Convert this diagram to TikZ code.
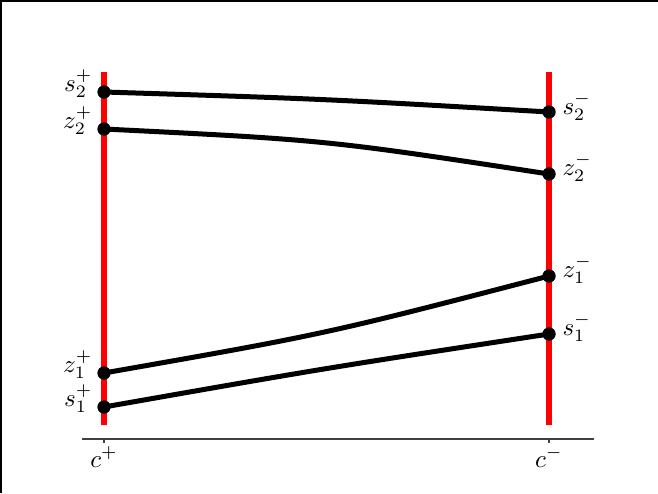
\documentclass[tikz,border=0pt]{standalone}
\begin{document}
\begin{tikzpicture}[x=1pt,y=-1pt,
  redbar/.style={red,line width=5.5pt},
  curve/.style={black,line width=5pt},
  dot/.style={circle,fill=black,inner sep=0pt,minimum size=13pt},
  lbl/.style={inner sep=0pt,scale=2.5,transform shape},
  axis/.style={black!75,line width=1.3pt},
  frame/.style={black,line width=2pt}]
\useasboundingbox (0,0) rectangle (658,493);
\draw[frame] (0,1) -- (658,1);
\draw[frame] (1,0) -- (1,493);
% axis
\coordinate (axl) at (82,439);
\coordinate (axr) at (594,439);
\draw[axis] (axl) -- (axr);
\coordinate (tl) at (104,439);
\coordinate (tr) at (549,439);
\draw[axis] (tl) -- ++(0,4);
\draw[axis] (tr) -- ++(0,4);
\node[lbl,anchor=base] (cp) at (104,467) {$c^+$};
\node[lbl,anchor=base] (cm) at (549,467) {$c^-$};
% red bars
\coordinate (lt) at (104,72);
\coordinate (lb) at (104,425);
\coordinate (rt) at (549,72);
\coordinate (rb) at (549,425);
\draw[redbar] (lt) -- (lb);
\draw[redbar] (rt) -- (rb);
% dots
\node[dot] (s2p) at (104,92) {};
\node[dot] (z2p) at (104,129) {};
\node[dot] (z1p) at (104,373) {};
\node[dot] (s1p) at (104,407) {};
\node[dot] (s2m) at (549,112) {};
\node[dot] (z2m) at (549,174) {};
\node[dot] (z1m) at (549,276) {};
\node[dot] (s1m) at (549,334) {};
% curves
\draw[curve] (s2p.center) .. controls (326,99) .. (s2m.center);
\draw[curve] (z2p.center) .. controls (326,140) .. (z2m.center);
\draw[curve] (z1p.center) .. controls (326,334) .. (z1m.center);
\draw[curve] (s1p.center) .. controls (326,368) .. (s1m.center);
% redraw dots on top
\foreach \n in {s2p,z2p,z1p,s1p,s2m,z2m,z1m,s1m} \fill (\n) circle (6.5pt);
% labels
\node[lbl,anchor=base east] (ls2p) at (93,91) {$s_2^+$};
\node[lbl,anchor=base east] (lz2p) at (93,128) {$z_2^+$};
\node[lbl,anchor=base east] (lz1p) at (93,372) {$z_1^+$};
\node[lbl,anchor=base east] (ls1p) at (93,406) {$s_1^+$};
\node[lbl,anchor=base west] (ls2m) at (562,114) {$s_2^-$};
\node[lbl,anchor=base west] (lz2m) at (562,175) {$z_2^-$};
\node[lbl,anchor=base west] (lz1m) at (562,277) {$z_1^-$};
\node[lbl,anchor=base west] (ls1m) at (562,335) {$s_1^-$};
\end{tikzpicture}
\end{document}
